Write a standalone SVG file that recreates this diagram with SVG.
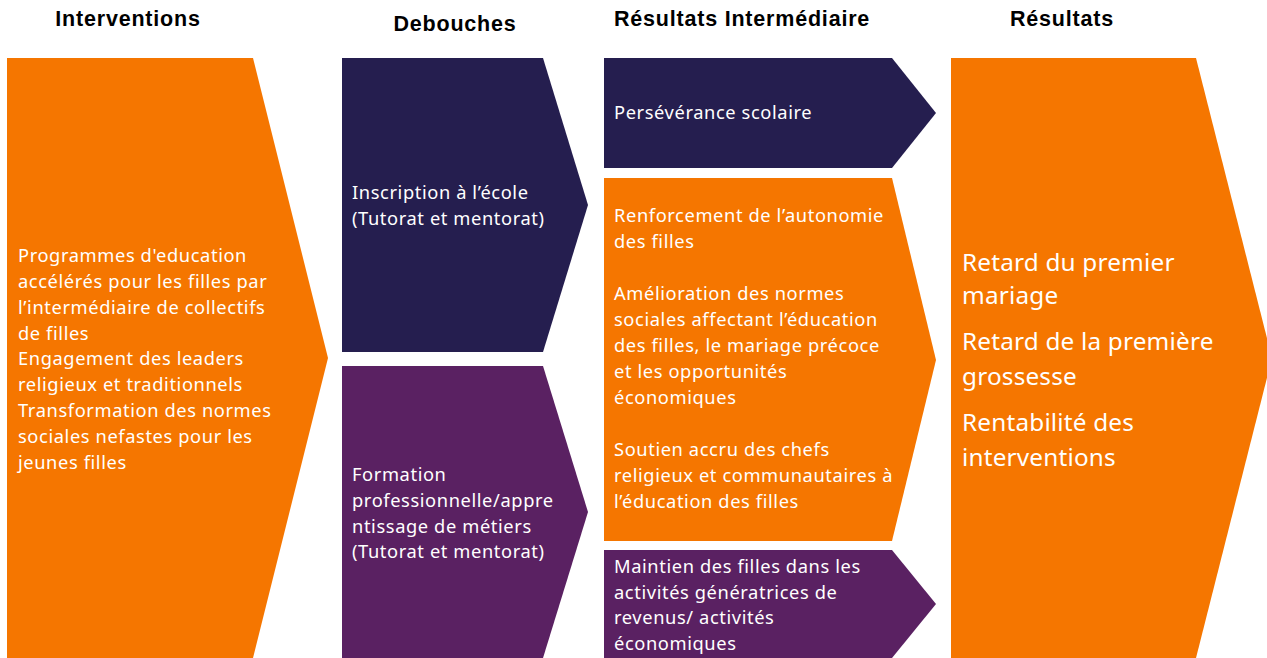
<svg xmlns="http://www.w3.org/2000/svg" width="1267" height="658" viewBox="0 0 1267 658">
<style>
.hdr{font-family:"Liberation Sans",Arial,sans-serif;font-weight:bold;font-size:21.5px;letter-spacing:0.8px;fill:#000;text-anchor:middle}
.t{font-family:"Noto Sans","Open Sans",sans-serif;font-size:18.3px;letter-spacing:0.6px;fill:#fff}
.tl{font-family:"Noto Sans","Open Sans",sans-serif;font-size:24.3px;letter-spacing:0.2px;fill:#fff}
.or{fill:#F57600}
.nv{fill:#251E4F}
.pu{fill:#5A2162}
</style>
<rect width="1267" height="658" fill="#fff"/>
<g id="headers">
<text class="hdr" x="128" y="26">Interventions</text>
<text class="hdr" x="455" y="31">Debouches</text>
<text class="hdr" x="742" y="26">Résultats Intermédiaire</text>
<text class="hdr" x="1062" y="26">Résultats</text>
</g>
<g id="interventions">
<polygon class="or" points="7,58 253,58 328,358 253,658 7,658"/>
<text class="t" x="18"><tspan x="18" y="262">Programmes d'education</tspan><tspan x="18" y="288">accélérés pour les filles par</tspan><tspan x="18" y="314">l’intermédiaire de collectifs</tspan><tspan x="18" y="340">de filles</tspan><tspan x="18" y="365">Engagement des leaders</tspan><tspan x="18" y="391">religieux et traditionnels</tspan><tspan x="18" y="417">Transformation des normes</tspan><tspan x="18" y="443">sociales nefastes pour les</tspan><tspan x="18" y="469">jeunes filles</tspan></text>
</g>
<g id="inscription">
<polygon class="nv" points="342,58 543,58 588,205 543,352 342,352"/>
<text class="t"><tspan x="352" y="199">Inscription à l’école</tspan><tspan x="352" y="225">(Tutorat et mentorat)</tspan></text>
</g>
<g id="formation">
<polygon class="pu" points="342,366 543,366 588,512 543,658 342,658"/>
<text class="t"><tspan x="352" y="481">Formation</tspan><tspan x="352" y="507">professionnelle/appre</tspan><tspan x="352" y="533">ntissage de métiers</tspan><tspan x="352" y="558">(Tutorat et mentorat)</tspan></text>
</g>
<g id="perseverance">
<polygon class="nv" points="604,58 892,58 936,113 892,168 604,168"/>
<text class="t"><tspan x="614" y="119">Persévérance scolaire</tspan></text>
</g>
<g id="autonomie">
<polygon class="or" points="604,178 892,178 936,360 892,541 604,541"/>
<text class="t"><tspan x="614" y="222">Renforcement de l’autonomie</tspan><tspan x="614" y="248">des filles</tspan><tspan x="614" y="300">Amélioration des normes</tspan><tspan x="614" y="326">sociales affectant l’éducation</tspan><tspan x="614" y="352">des filles, le mariage précoce</tspan><tspan x="614" y="378">et les opportunités</tspan><tspan x="614" y="404">économiques</tspan><tspan x="614" y="456">Soutien accru des chefs</tspan><tspan x="614" y="482">religieux et communautaires à</tspan><tspan x="614" y="508">l’éducation des filles</tspan></text>
</g>
<g id="maintien">
<polygon class="pu" points="604,550 892,550 936,604 892,658 604,658"/>
<text class="t"><tspan x="614" y="573">Maintien des filles dans les</tspan><tspan x="614" y="599">activités génératrices de</tspan><tspan x="614" y="624">revenus/ activités</tspan><tspan x="614" y="650">économiques</tspan></text>
</g>
<g id="resultats">
<polygon class="or" points="951,58 1196,58 1272,358 1196,658 951,658"/>
<text class="tl"><tspan x="962" y="271">Retard du premier</tspan><tspan x="962" y="304">mariage</tspan><tspan x="962" y="350">Retard de la première</tspan><tspan x="962" y="385">grossesse</tspan><tspan x="962" y="431">Rentabilité des</tspan><tspan x="962" y="466">interventions</tspan></text>
</g>
<g id="connectors"></g>
</svg>
